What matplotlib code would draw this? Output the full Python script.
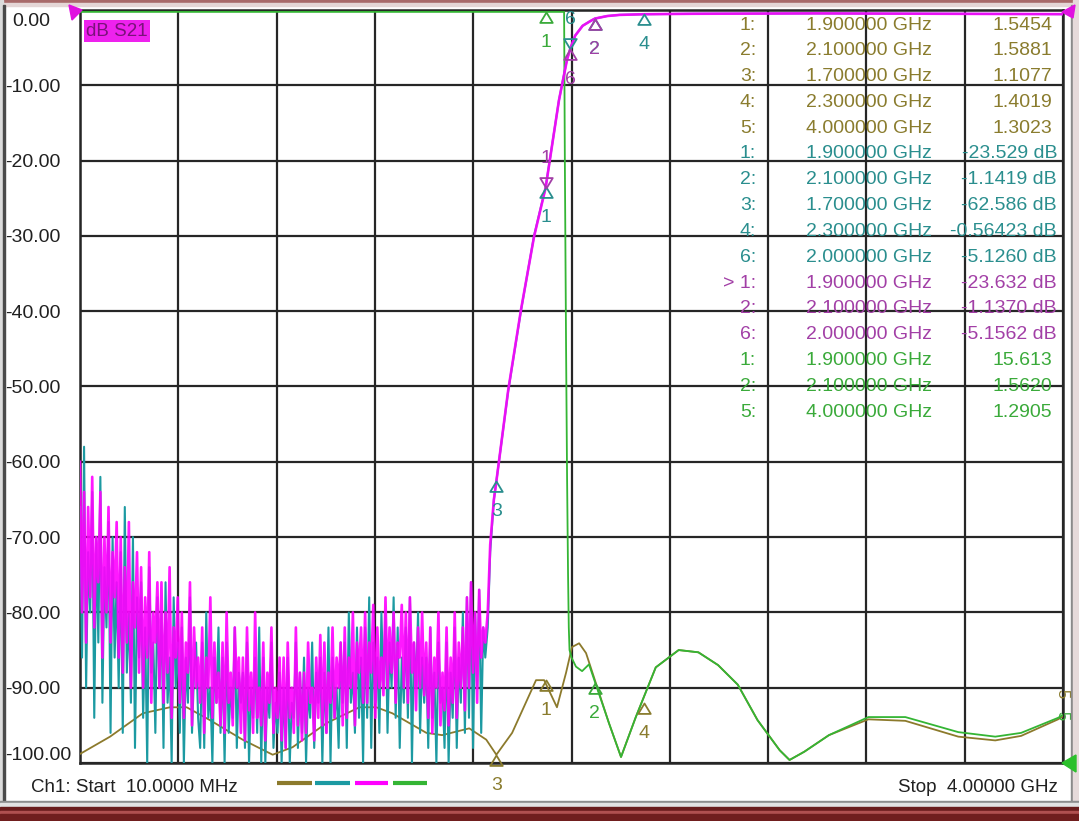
import numpy as np
import matplotlib
matplotlib.use("Agg")
import matplotlib.pyplot as plt
from matplotlib.path import Path
from matplotlib.patches import Rectangle, Polygon
from matplotlib.lines import Line2D

plt.rcParams['font.family'] = ['Liberation Sans', 'DejaVu Sans']

# ---------------- data ----------------
f_start, f_stop = 0.01, 4.0          # GHz
y_ticks = [0, -10, -20, -30, -40, -50, -60, -70, -80, -90, -100]

# noisy stop-band of the two S21 traces (sweep points 10 MHz .. 1.655 GHz)
noise_f = np.linspace(0.01, 1.655, 200)
mag_noise = [
    -60, -80, -64, -84, -66, -78, -62, -82, -70, -76,
    -64, -86, -70, -80, -66, -84, -72, -78, -68, -86,
    -70, -88, -74, -84, -68, -90, -76, -82, -72, -88,
    -74, -90, -78, -86, -72, -92, -80, -84, -76, -90,
    -76, -92, -80, -88, -74, -94, -82, -86, -78, -92,
    -80, -94, -84, -88, -76, -95, -82, -90, -86, -92,
    -82, -96, -86, -90, -78, -94, -84, -92, -88, -95,
    -84, -96, -80, -92, -88, -95, -82, -90, -86, -96,
    -86, -97, -82, -93, -88, -96, -80, -94, -90, -95,
    -84, -97, -88, -92, -82, -96, -90, -94, -86, -97,
    -86, -98, -84, -94, -90, -96, -82, -95, -88, -97,
    -88, -96, -84, -92, -90, -97, -86, -94, -83, -95,
    -84, -96, -88, -92, -82, -94, -86, -90, -84, -95,
    -82, -94, -86, -90, -80, -95, -84, -88, -82, -92,
    -80, -92, -84, -88, -79, -94, -82, -90, -86, -91,
    -78, -90, -82, -88, -80, -92, -84, -86, -79, -90,
    -80, -92, -78, -88, -84, -93, -82, -90, -80, -91,
    -84, -94, -82, -96, -86, -90, -80, -95, -88, -93,
    -82, -95, -86, -92, -80, -94, -84, -90, -82, -93,
    -78, -90, -76, -88, -80, -92, -77, -86, -82, -84]
teal_noise = [
    -66, -86, -58, -90, -72, -80, -64, -94, -70, -84,
    -62, -92, -74, -82, -68, -96, -70, -86, -76, -90,
    -72, -96, -66, -88, -80, -92, -70, -98, -78, -86,
    -76, -94, -82, -100, -74, -88, -84, -96, -78, -90,
    -80, -98, -76, -92, -86, -100, -78, -90, -84, -96,
    -82, -100, -86, -92, -78, -96, -88, -84, -94, -98,
    -84, -98, -80, -94, -90, -100, -86, -92, -82, -96,
    -86, -100, -84, -96, -90, -94, -82, -98, -88, -92,
    -88, -98, -84, -100, -90, -94, -86, -96, -82, -100,
    -86, -100, -90, -94, -84, -98, -92, -96, -88, -100,
    -90, -98, -86, -100, -92, -94, -84, -98, -88, -96,
    -86, -100, -90, -94, -84, -98, -88, -92, -86, -100,
    -88, -96, -82, -100, -86, -94, -90, -98, -84, -92,
    -84, -98, -80, -92, -88, -96, -82, -94, -86, -100,
    -82, -94, -78, -98, -84, -92, -86, -96, -80, -90,
    -80, -96, -84, -90, -78, -94, -82, -98, -86, -92,
    -82, -94, -78, -100, -84, -90, -80, -96, -86, -92,
    -86, -98, -82, -94, -88, -100, -84, -92, -90, -98,
    -84, -100, -88, -94, -82, -98, -86, -92, -80, -96,
    -78, -94, -76, -98, -80, -90, -77, -96, -82, -86]

# filter skirt and passband of the S21 traces
trans_f = [1.665, 1.675, 1.69, 1.70, 1.748, 1.80, 1.853, 1.90, 1.954, 1.987, 2.00,
           2.02, 2.05, 2.08, 2.10, 2.15, 2.20, 2.30, 2.50, 3.00, 3.50, 4.00]
mag_trans = [-80, -71, -65, -62.6, -50.5, -39.8, -30.1, -23.6, -12.0, -6.6, -5.16,
             -3.4, -2.1, -1.5, -1.14, -0.8, -0.65, -0.56, -0.5, -0.45, -0.5, -0.55]
teal_trans = [-82, -72, -65, -62.59, -50.6, -39.9, -30.0, -23.53, -12.0, -6.5, -5.13,
              -3.4, -2.1, -1.5, -1.14, -0.8, -0.65, -0.56, -0.5, -0.45, -0.5, -0.55]

# SWR traces as drawn on the dB grid
olive_f = [0.01, 0.132, 0.265, 0.375, 0.443, 0.537, 0.67, 0.792, 0.873, 1.011, 1.144, 1.213,
           1.278, 1.416, 1.48, 1.59, 1.659, 1.70, 1.764, 1.861, 1.894, 1.946, 1.983, 2.007,
           2.036, 2.064, 2.104, 2.157, 2.206, 2.266, 2.347, 2.44, 2.52, 2.60, 2.68, 2.76,
           2.85, 2.89, 2.95, 3.05, 3.21, 3.36, 3.575, 3.725, 3.83, 3.98, 4.0]
olive_v = [-98.8, -96.5, -93.4, -92.6, -92.6, -94.3, -96.9, -98.9, -97.9, -94.7, -92.6, -92.6,
           -93.4, -96.0, -96.3, -95.4, -96.9, -98.9, -96.0, -89.0, -89.0, -92.6, -88.0, -84.6,
           -84.1, -85.4, -89.4, -94.7, -99.2, -93.9, -87.3, -85.0, -85.3, -87.0, -89.6, -94.3,
           -98.3, -99.6, -98.5, -96.3, -94.2, -94.4, -96.5, -97.0, -96.4, -94.2, -93.8]
green_f = [0.01, 1.975, 1.978, 1.983, 1.987, 1.991, 1.994, 1.997, 2.005, 2.023, 2.048, 2.076,
           2.104, 2.157, 2.206, 2.266, 2.347, 2.44, 2.52, 2.60, 2.68, 2.76, 2.85, 2.89, 2.95,
           3.05, 3.21, 3.36, 3.575, 3.725, 3.83, 3.98, 4.0]
green_v = [-0.25, -0.25, -20, -45, -62, -75, -82, -85, -86, -87.2, -87.8, -86.9,
           -89.6, -94.7, -99.2, -93.9, -87.3, -85.0, -85.3, -87.0, -89.6, -94.3, -98.3, -99.6, -98.5,
           -96.3, -93.9, -93.9, -95.9, -96.5, -96.0, -94.0, -93.6]

# markers on the traces: (trace, id, freq GHz, displayed value, label side)
mk_trace = ['olive', 'olive', 'olive', 'teal', 'teal', 'teal', 'teal', 'teal',
            'mag', 'mag', 'mag', 'green', 'green']
mk_id = ['1', '3', '4', '1', '3', '4', '2', '6', '1', '2', '6', '1', '2']
mk_f = [1.9, 1.7, 2.3, 1.9, 1.7, 2.3, 2.1, 2.0, 1.9, 2.1, 2.0, 1.9, 2.1]
mk_v = [-89.0, -98.9, -92.0, -23.529, -62.586, -0.564, -1.142, -5.126,
        -23.632, -1.137, -5.156, -0.3, -89.4]
mk_side = ['below', 'below', 'below', 'below', 'below', 'below', 'below', 'above',
           'above', 'below', 'below', 'below', 'below']

# marker readout table
tab_id = ['1:', '2:', '3:', '4:', '5:', '1:', '2:', '3:', '4:', '6:',
          '> 1:', '2:', '6:', '1:', '2:', '5:']
tab_freq = ['1.900000 GHz', '2.100000 GHz', '1.700000 GHz', '2.300000 GHz', '4.000000 GHz',
            '1.900000 GHz', '2.100000 GHz', '1.700000 GHz', '2.300000 GHz', '2.000000 GHz',
            '1.900000 GHz', '2.100000 GHz', '2.000000 GHz',
            '1.900000 GHz', '2.100000 GHz', '4.000000 GHz']
tab_val = ['1.5454', '1.5881', '1.1077', '1.4019', '1.3023',
           '-23.529 dB', '-1.1419 dB', '-62.586 dB', '-0.56423 dB', '-5.1260 dB',
           '-23.632 dB', '-1.1370 dB', '-5.1562 dB',
           '15.613', '1.5620', '1.2905']
tab_trace = ['olive'] * 5 + ['teal'] * 5 + ['mag'] * 3 + ['green'] * 3

# ---------------- style ----------------
trace_col = {'olive': '#8c7a2c', 'teal': '#1c9aa2', 'mag': '#ff00ff', 'green': '#34b534'}
text_col = {'olive': '#8a7c2e', 'teal': '#2a8e8e', 'mag': '#a23fa6', 'green': '#3aaa3a'}

W, H = 1079, 821
fig = plt.figure(figsize=(W / 100, H / 100), dpi=100)
fig.patch.set_facecolor('white')

def px_rect(x, y, w, h, color):
    fig.patches.append(Rectangle((x / W, 1 - (y + h) / H), w / W, h / H,
                                 transform=fig.transFigure, color=color, zorder=0))

# window frame
px_rect(0, 0, W, 3, '#a86a6a')
px_rect(0, 3, W, 3, '#e4d6d6')
px_rect(0, 0, 3, 806, '#dcdcdc')
px_rect(3, 5, 2, 797, '#4a4a4a')
px_rect(1071, 5, 2, 800, '#8a8a8a')
px_rect(1073, 0, 6, 806, '#e6dada')
px_rect(0, 801, W, 2, '#8c8c8c')
px_rect(0, 803, W, 4, '#e2e2e2')
px_rect(0, 807, W, 4, '#6a1c1c')
px_rect(0, 811, W, 3, '#b05050')
px_rect(0, 814, W, 7, '#701e1e')

ax_l, ax_r, ax_t, ax_b = 80, 1063, 10, 763
ax = fig.add_axes([ax_l / W, 1 - ax_b / H, (ax_r - ax_l) / W, (ax_b - ax_t) / H])
ax.set_xlim(f_start, f_stop)
ax.set_ylim(-100, 0)
ax.set_xticks(np.linspace(f_start, f_stop, 11))
ax.set_yticks(y_ticks)
ax.grid(True, color='#262626', lw=1.6)
ax.tick_params(left=False, bottom=False, labelleft=False, labelbottom=False)
for s in ax.spines.values():
    s.set_color('#262626')
    s.set_linewidth(1.8)
ax.set_axisbelow(True)

# traces
ax.plot(olive_f, olive_v, color=trace_col['olive'], lw=1.3, zorder=3)
ax.plot(green_f, green_v, color=trace_col['green'], lw=1.3, zorder=4)
ax.plot(list(noise_f) + trans_f, teal_noise + teal_trans, color=trace_col['teal'], lw=1.5, zorder=5)
ax.plot(list(noise_f) + trans_f, mag_noise + mag_trans, color=trace_col['mag'], lw=1.9,
        alpha=0.9, zorder=6)

# marker triangles
tri_dn = Path([(0, 0), (-0.6, -1), (0.6, -1), (0, 0)], closed=True)
tri_up = Path([(0, 0), (-0.6, 1), (0.6, 1), (0, 0)], closed=True)
for tr, mid, fq, v, side in zip(mk_trace, mk_id, mk_f, mk_v, mk_side):
    c = text_col[tr]
    ax.plot([fq], [v], marker=tri_dn if side == 'below' else tri_up, ms=15,
            mfc='none', mec=c, mew=1.3, ls='none', zorder=8, clip_on=False)
    dy = -22 if side == 'below' else 21
    ax.annotate(mid, (fq, v), xytext=(0, dy), textcoords='offset points',
                ha='center', va='center', fontsize=14, color=c, zorder=9,
                annotation_clip=False)

# markers 5 at the stop frequency (drawn rotated at the right edge)
ax.text(0.999, 0.092, '5', transform=ax.transAxes, rotation=-90, ha='center', va='center',
        fontsize=12, color=text_col['olive'], zorder=9)
ax.text(0.999, 0.063, '5', transform=ax.transAxes, rotation=-90, ha='center', va='center',
        fontsize=12, color=text_col['green'], zorder=9)

# y tick labels
fig.canvas.draw()
for v in y_ticks:
    ypix = ax.transData.transform((0, v))[1]
    if v == 0:
        ypix -= 12
    elif v == -100:
        ypix += 8
    else:
        ypix -= 2
    x0 = 12 if v == 0 else 5
    fig.text(x0 / W, ypix / H, f'{v:.2f}', ha='left', va='center', fontsize=14,
             color='#202020')

# trace title box
fig.text(86 / W, 1 - 31 / H, 'dB S21', ha='left', va='center', fontsize=13.5,
         color='#7a127a',
         bbox=dict(boxstyle='square,pad=0.12', fc='#ee22ee', ec='none'))

# marker table
for i, (a, b, c, tr) in enumerate(zip(tab_id, tab_freq, tab_val, tab_trace)):
    y = 1 - (25 + i * 25.8) / H
    col = text_col[tr]
    fig.text(756 / W, y, a, ha='right', va='center', fontsize=14, color=col)
    fig.text(932 / W, y, b, ha='right', va='center', fontsize=14, color=col)
    xr = 1057 if c.endswith('dB') else 1052
    fig.text(xr / W, y, c, ha='right', va='center', fontsize=14, color=col)

# bottom annotations
fig.text(31 / W, 1 - 787 / H, 'Ch1: Start  10.0000 MHz', ha='left', va='center',
         fontsize=13.5, color='#202020')
fig.text(1058 / W, 1 - 787 / H, 'Stop  4.00000 GHz', ha='right', va='center',
         fontsize=13.5, color='#202020')

# trace colour legend
for (x0, x1), tr in zip([(277, 312), (315, 350), (355, 388), (393, 427)],
                        ['olive', 'teal', 'mag', 'green']):
    fig.lines.append(Line2D([x0 / W, x1 / W], [1 - 783 / H] * 2, transform=fig.transFigure,
                            color=trace_col[tr], lw=3, solid_capstyle='butt'))

# reference-level pointers
def px_poly(pts, color):
    fig.patches.append(Polygon([(x / W, 1 - y / H) for x, y in pts], closed=True,
                               transform=fig.transFigure, color=color, zorder=10))

px_poly([(69, 5), (82, 10), (72, 20)], '#e010e0')
px_poly([(1062, 12), (1075, 5), (1073, 18)], '#e010e0')
px_poly([(1062, 763), (1076, 755), (1076, 772)], '#2cc02c')

fig.savefig('out.png', dpi=100, facecolor=fig.get_facecolor())
